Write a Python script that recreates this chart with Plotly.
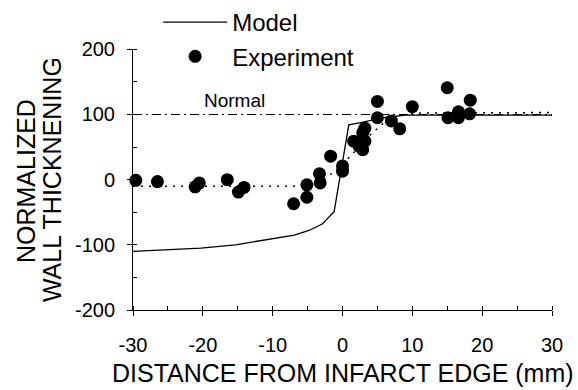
import plotly.graph_objects as go

# Experimental points (distance mm, normalized wall thickening)
exp_x = [-29.6, -26.5, -21.1, -20.5, -16.5, -14.9, -14.1, -7.0, -5.1, -5.1, -3.3, -3.2,
         -1.7, 0.0, 0.0, 1.6, 2.4, 2.9, 3.2, 2.9, 3.2, 5.0, 5.0, 7.0, 8.2, 10.0,
         15.0, 15.1, 16.6, 16.6, 18.2, 18.3]
exp_y = [-1, -3, -11, -5, 0, -19, -12, -37, -27, -8, 9, -5,
         36, 21, 13, 59, 51, 46, 79, 72, 59, 120, 95, 90, 78, 112,
         141, 95, 95, 104, 101, 122]

# Model curve
model_x = [-30, -20.3, -15.3, -10.0, -6.9, -4.8, -2.9, -1.2, 0.9, 2.8, 5.8, 9.0, 30]
model_y = [-110, -105, -100, -91, -85, -78, -68, -49, 84, 88, 95, 99, 99]

# Fit through experiment (dotted)
fit_x = [-30, -7, -5, -3, -2, -1, 0, 1, 2, 3, 4, 5, 6, 7, 8, 10, 30]
fit_y = [-10, -10, -8, -3, 6, 13, 23, 35, 47, 58, 69, 79, 88, 94, 98, 102, 103]

# Normal reference
normal_x = [-30, 30]
normal_y = [100, 100]

x_ticks = [-30, -20, -10, 0, 10, 20, 30]
x_ticktext = ["-30", "-20", "-10", "0", "10", "20", "30"]
y_ticks = [-200, -100, 0, 100, 200]
y_ticktext = ["-200", "-100", "0", "100", "200"]

FONT = "Liberation Sans, Arial, sans-serif"

fig = go.Figure()
fig.add_trace(go.Scatter(x=normal_x, y=normal_y, mode="lines",
                         line=dict(color="black", width=1, dash="9px,4px,2px,4px"),
                         showlegend=False, hoverinfo="skip"))
fig.add_trace(go.Scatter(x=fit_x, y=fit_y, mode="lines",
                         line=dict(color="black", width=1.5, dash="2px,6px"),
                         showlegend=False, hoverinfo="skip"))
fig.add_trace(go.Scatter(x=model_x, y=model_y, mode="lines", name="Model",
                         legendgroup="m",
                         line=dict(color="black", width=1.3)))
fig.add_trace(go.Scatter(x=exp_x, y=exp_y, mode="markers", name="Experiment",
                         legendgroup="e",
                         marker=dict(color="black", size=13), cliponaxis=False))

fig.update_layout(
    width=578, height=390,
    margin=dict(l=133, r=26, t=0, b=80),
    paper_bgcolor="white", plot_bgcolor="white",
    font=dict(family=FONT, color="black", size=20),
    showlegend=True,
    legend=dict(x=0.060, y=1.0, xanchor="left", yanchor="top",
                font=dict(size=24, family=FONT), bgcolor="rgba(0,0,0,0)",
                tracegroupgap=0, itemwidth=64),
    xaxis=dict(range=[-30, 30], tickvals=x_ticks, ticktext=x_ticktext,
               showgrid=False, zeroline=False, automargin=False,
               showline=True, linecolor="black", linewidth=1,
               ticks="outside", ticklen=5, tickcolor="black",
               ticklabelstandoff=12,
               minor=dict(ticks="inside", ticklen=4, dtick=5, tickcolor="black", showgrid=False),
               tickfont=dict(size=20)),
    yaxis=dict(range=[-200, 200], tickvals=y_ticks, ticktext=y_ticktext,
               domain=[0, 0.841],
               showgrid=False, zeroline=False, automargin=False,
               showline=True, linecolor="black", linewidth=1,
               ticks="outside", ticklen=5, tickcolor="black",
               ticklabelstandoff=8,
               minor=dict(ticks="inside", ticklen=4, dtick=50, tickcolor="black", showgrid=False),
               tickfont=dict(size=20)),
    annotations=[
        dict(text="DISTANCE FROM INFARCT EDGE (mm)", xref="paper", yref="paper",
             x=0.501, y=-0.2032, xanchor="center", yanchor="middle", showarrow=False,
             font=dict(size=25)),
        dict(text="NORMALIZED", xref="paper", yref="paper", x=-0.2554, y=0.416,
             xanchor="center", yanchor="middle", showarrow=False, textangle=-90,
             font=dict(size=25)),
        dict(text="WALL THICKNENING", xref="paper", yref="paper", x=-0.1933, y=0.419,
             xanchor="center", yanchor="middle", showarrow=False, textangle=-90,
             font=dict(size=25)),
        dict(text="Normal", xref="x", yref="y", x=-15.46, y=122,
             xanchor="center", yanchor="middle", showarrow=False, font=dict(size=19)),
    ],
)

fig.write_html("out.html", config={"displayModeBar": False},
               post_script="document.body.style.margin='0';document.body.style.padding='0';")
